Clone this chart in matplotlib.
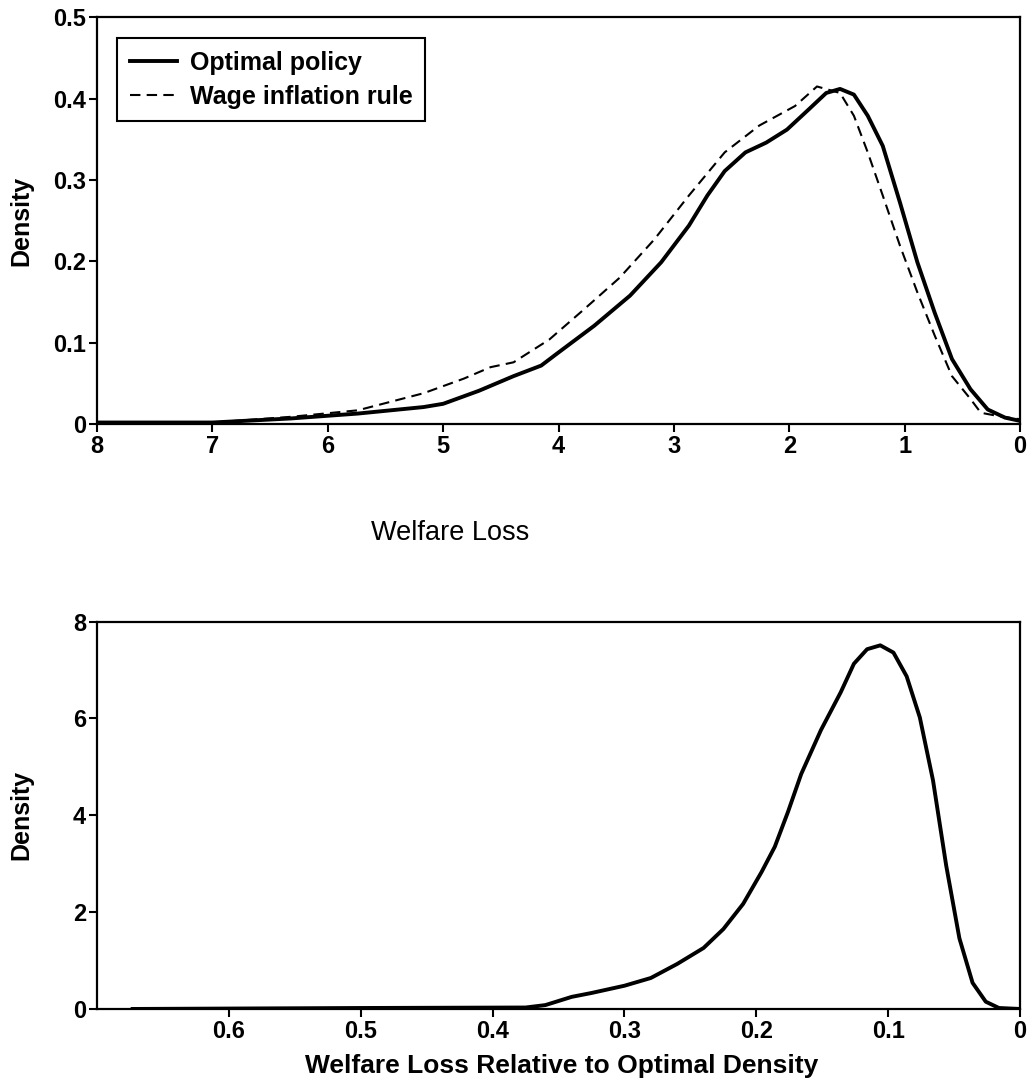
import matplotlib.pyplot as plt

plt.rcParams['font.family'] = ['Liberation Sans', 'DejaVu Sans']

# Top panel: welfare loss densities
loss_opt = [8.0, 7.0, 6.32, 5.74, 5.17, 5.0, 4.69, 4.39, 4.15, 4.02, 3.69, 3.38,
            3.11, 2.87, 2.71, 2.56, 2.38, 2.20, 2.02, 1.83, 1.68, 1.56, 1.44,
            1.32, 1.19, 1.04, 0.89, 0.74, 0.59, 0.43, 0.28, 0.13, 0.0]
dens_opt = [0.002, 0.002, 0.007, 0.013, 0.021, 0.025, 0.041, 0.059, 0.072, 0.086,
            0.121, 0.158, 0.199, 0.244, 0.281, 0.311, 0.334, 0.346, 0.362, 0.387,
            0.407, 0.412, 0.405, 0.379, 0.342, 0.272, 0.199, 0.137, 0.080, 0.043,
            0.018, 0.008, 0.004]

loss_wage = [8.0, 7.0, 6.32, 5.74, 5.17, 4.82, 4.59, 4.39, 4.08, 3.78, 3.47, 3.17,
             2.87, 2.56, 2.26, 1.95, 1.76, 1.56, 1.44, 1.32, 1.19, 1.04, 0.89,
             0.74, 0.59, 0.43, 0.34, 0.19, 0.0]
dens_wage = [0.002, 0.002, 0.009, 0.017, 0.038, 0.056, 0.070, 0.076, 0.104, 0.141,
             0.180, 0.227, 0.281, 0.334, 0.367, 0.391, 0.415, 0.407, 0.379, 0.334,
             0.281, 0.219, 0.162, 0.109, 0.059, 0.031, 0.014, 0.010, 0.006]

# Bottom panel: relative welfare loss density
rel_loss = [0.673, 0.5, 0.375, 0.36, 0.34, 0.325, 0.30, 0.28, 0.26, 0.24, 0.225,
            0.21, 0.196, 0.186, 0.176, 0.166, 0.151, 0.136, 0.126, 0.116, 0.106,
            0.096, 0.086, 0.076, 0.066, 0.056, 0.046, 0.036, 0.026, 0.016, 0.0]
rel_dens = [0.0, 0.02, 0.03, 0.08, 0.25, 0.33, 0.48, 0.64, 0.93, 1.26, 1.65,
            2.17, 2.83, 3.35, 4.07, 4.85, 5.76, 6.54, 7.13, 7.43, 7.51,
            7.36, 6.87, 6.02, 4.72, 2.96, 1.46, 0.54, 0.15, 0.02, 0.0]

top_ticks = [8, 7, 6, 5, 4, 3, 2, 1, 0]
top_yticks = [0, 0.1, 0.2, 0.3, 0.4, 0.5]
top_yticklabels = ['0', '0.1', '0.2', '0.3', '0.4', '0.5']
bot_ticks = [0.6, 0.5, 0.4, 0.3, 0.2, 0.1, 0]
bot_ticklabels = ['0.6', '0.5', '0.4', '0.3', '0.2', '0.1', '0']
bot_yticks = [0, 2, 4, 6, 8]

fig = plt.figure(figsize=(10.29, 10.82), dpi=100)
ax1 = fig.add_axes([0.0943, 0.608, 0.897, 0.376])
ax2 = fig.add_axes([0.0943, 0.0675, 0.897, 0.358])

tick_font = dict(fontsize=17, fontweight='bold')

ax1.plot(loss_opt, dens_opt, color='black', lw=2.8, label='Optimal policy')
ax1.plot(loss_wage, dens_wage, color='black', lw=1.5, ls=(0, (5, 3)),
         label='Wage inflation rule')
ax1.set_xlim(8, 0)
ax1.set_ylim(0, 0.5)
ax1.set_xticks(top_ticks)
ax1.set_xticklabels([str(t) for t in top_ticks], **tick_font)
ax1.set_yticks(top_yticks)
ax1.set_yticklabels(top_yticklabels, **tick_font)
ax1.set_ylabel('Density', fontsize=18, fontweight='bold')
leg = ax1.legend(loc='upper left', bbox_to_anchor=(0.0217, 0.948), fancybox=False,
                 edgecolor='black', framealpha=1, handlelength=1.9,
                 borderpad=0.5, labelspacing=0.4, handletextpad=0.5,
                 borderaxespad=0, prop={'size': 18, 'weight': 'bold'})
leg.get_frame().set_linewidth(1.5)

ax2.plot(rel_loss, rel_dens, color='black', lw=2.8)
ax2.set_xlim(0.70, 0)
ax2.set_ylim(0, 8)
ax2.set_xticks(bot_ticks)
ax2.set_xticklabels(bot_ticklabels, **tick_font)
ax2.set_yticks(bot_yticks)
ax2.set_yticklabels([str(t) for t in bot_yticks], **tick_font)
ax2.set_ylabel('Density', fontsize=18, fontweight='bold')

# axis titles placed as in the original
fig.text(450 / 1029, 1 - 533 / 1082, 'Welfare Loss', fontsize=19.5,
         ha='center', va='center')
fig.text(562 / 1029, 1 - 1066 / 1082, 'Welfare Loss Relative to Optimal Density',
         fontsize=19, fontweight='bold', ha='center', va='center')

for ax in (ax1, ax2):
    for s in ax.spines.values():
        s.set_linewidth(1.6)
    ax.tick_params(direction='out', length=6, width=1.5, pad=2)
    ax.yaxis.set_label_coords(-0.069, 0.5)

plt.savefig('out.png', dpi=100)
